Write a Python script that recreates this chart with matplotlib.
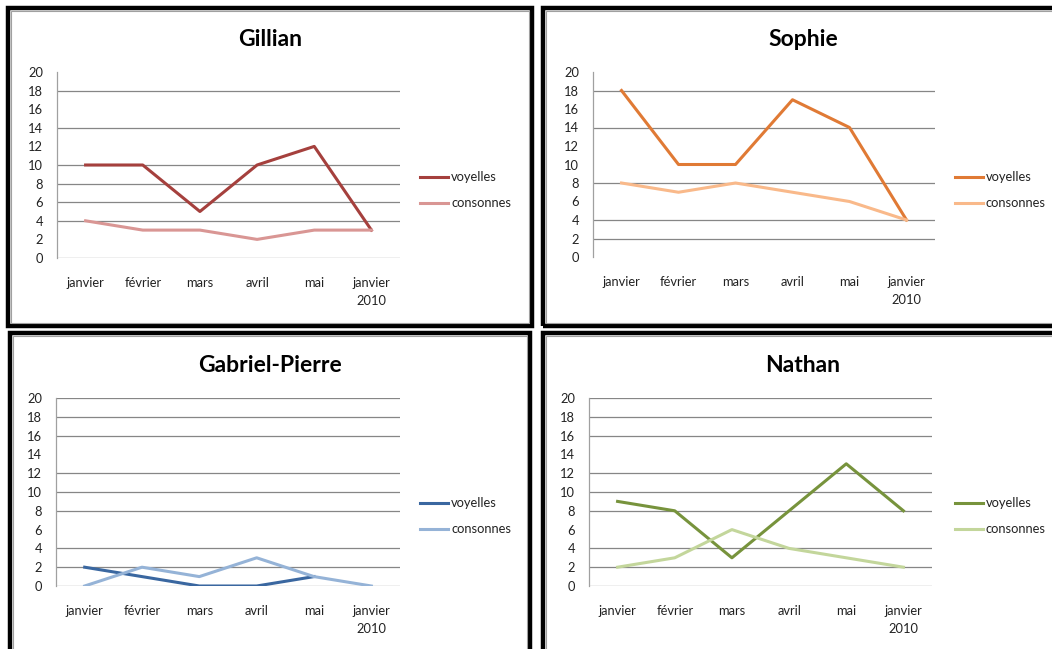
import matplotlib
matplotlib.use("Agg")
import matplotlib.pyplot as plt
from matplotlib.patches import Rectangle

W, H = 1052, 649

mois = ["janvier", "février", "mars", "avril", "mai", "janvier\n2010"]

gillian_voyelles = [10, 10, 5, 10, 12, 3]
gillian_consonnes = [4, 3, 3, 2, 3, 3]
sophie_voyelles = [18, 10, 10, 17, 14, 4]
sophie_consonnes = [8, 7, 8, 7, 6, 4]
gabriel_voyelles = [2, 1, 0, 0, 1, None]
gabriel_consonnes = [0, 2, 1, 3, 1, 0]
nathan_voyelles = [9, 8, 3, 8, 13, 8]
nathan_consonnes = [2, 3, 6, 4, 3, 2]

plt.rcParams['font.family'] = ['Lato', 'DejaVu Sans']

fig = plt.figure(figsize=(W / 100, H / 100), dpi=100)


def box(x0, y0, x1, y1):
    # pixel box (top-left origin) -> figure fraction rect
    return [x0 / W, 1 - y1 / H, (x1 - x0) / W, (y1 - y0) / H]


# panel frames: thick black with a thin grey inside line
frames = [(8, 8, 532, 326), (543, 8, 1062, 326), (10, 333, 530, 662), (543, 333, 1062, 662)]
for x0, y0, x1, y1 in frames:
    r = box(x0, y0, x1, y1)
    fig.patches.append(Rectangle((r[0], r[1]), r[2], r[3], transform=fig.transFigure,
                                 fill=False, edgecolor="black", linewidth=3.2, zorder=5))
    r = box(x0 + 3, y0 + 3, x1 - 3, y1 - 3)
    fig.patches.append(Rectangle((r[0], r[1]), r[2], r[3], transform=fig.transFigure,
                                 fill=False, edgecolor="#a0a0a0", linewidth=0.8, zorder=5))

panels = [
    ("Gillian", gillian_voyelles, gillian_consonnes, "#a5403d", "#d99694",
     (57, 72, 400, 258), (270, 40), (420, 177), [18, 14, 10, 8, 6, 4, 0]),
    ("Sophie", sophie_voyelles, sophie_consonnes, "#e07a35", "#f9b98a",
     (593, 72, 935, 257), (803, 40), (955, 177), [18, 14, 8, 4, 2]),
    ("Gabriel-Pierre", gabriel_voyelles, gabriel_consonnes, "#3a67a0", "#95b3d7",
     (56, 398, 400, 586), (270, 365), (420, 503), [20, 18, 16, 12, 10, 8, 4, 2, 0]),
    ("Nathan", nathan_voyelles, nathan_consonnes, "#77933c", "#c3d69b",
     (589, 398, 932, 586), (803, 365), (955, 503), [20, 18, 16, 12, 10, 8, 4, 2, 0]),
]

for name, voy, cons, c1, c2, area, tpos, lpos, grid in panels:
    x0, y0, x1, y1 = area
    ax = fig.add_axes(box(x0, y0, x1, y1))
    x = range(len(mois))
    vx = [i for i, v in zip(x, voy) if v is not None]
    vy = [v for v in voy if v is not None]
    ax.plot(vx, vy, color=c1, linewidth=2.2, zorder=3)
    ax.plot(list(x), cons, color=c2, linewidth=2.2, zorder=3)
    ax.set_xlim(-0.5, len(mois) - 0.5)
    ax.set_ylim(0, 20)
    for g in grid:
        ax.axhline(g, color="#868686", linewidth=0.9, zorder=1)
    ax.set_yticks(range(0, 21, 2))
    ax.set_xticks(list(x))
    ax.set_xticklabels(mois)
    for t in ax.get_xticklabels():
        t.set_linespacing(1.6)
    ax.tick_params(axis="both", length=0, labelsize=9.3, colors="#222222")
    ax.tick_params(axis="x", pad=14)
    ax.tick_params(axis="y", pad=10)
    for side in ["top", "right", "bottom"]:
        ax.spines[side].set_visible(False)
    ax.spines["left"].set_color("#a0a0a0")
    ax.spines["left"].set_linewidth(0.9)
    ax.set_facecolor("none")

    fig.text(tpos[0] / W, 1 - tpos[1] / H, name, ha="center", va="center",
             fontsize=16.5, fontweight="bold", color="black")

    lx, ly = lpos
    for off, col, lab in [(0, c1, "voyelles"), (26, c2, "consonnes")]:
        yy = 1 - (ly + off) / H
        fig.add_artist(plt.Line2D([lx / W, (lx + 28) / W], [yy, yy], color=col,
                                  linewidth=2.2, transform=fig.transFigure))
        fig.text((lx + 31) / W, yy, lab, ha="left", va="center", fontsize=9.3,
                 color="#222222")

fig.savefig("out.png", dpi=100)
